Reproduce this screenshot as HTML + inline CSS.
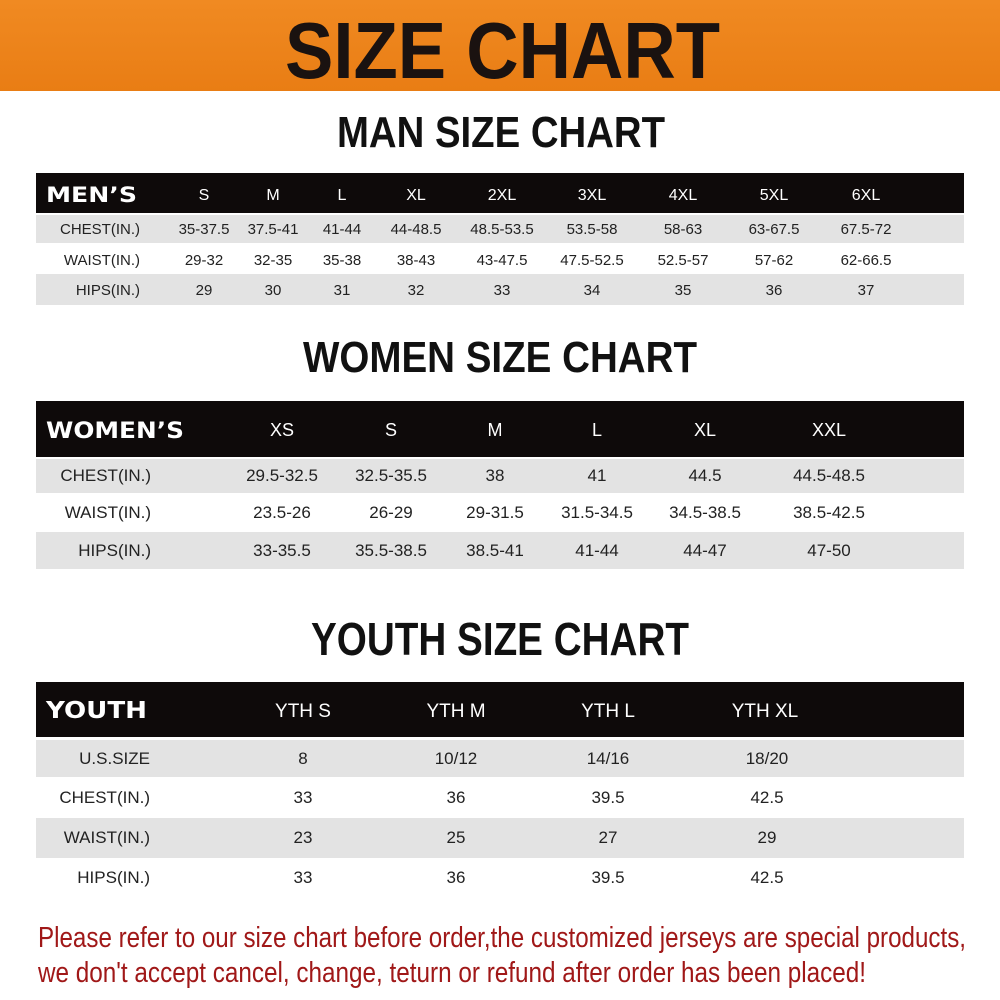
<!DOCTYPE html>
<html><head><meta charset="utf-8"><style>
html,body{margin:0;padding:0;background:#fff;width:1000px;height:1000px;overflow:hidden}
svg{display:block}
</style></head><body>
<svg width="1000" height="1000" viewBox="0 0 1000 1000" xmlns="http://www.w3.org/2000/svg">
<defs><linearGradient id="og" x1="0" y1="0" x2="0" y2="1"><stop offset="0" stop-color="#f08a22"/><stop offset="1" stop-color="#e97d14"/></linearGradient></defs>
<rect x="0" y="0" width="1000" height="91" fill="url(#og)"/>
<text x="285" y="78" font-family="Liberation Sans Narrow, Liberation Sans, sans-serif" font-weight="bold" font-size="80" fill="#1a1210" textLength="435" lengthAdjust="spacingAndGlyphs">SIZE CHART</text>
<g font-family="Liberation Sans Narrow, Liberation Sans, sans-serif" font-weight="bold" fill="#111">
<text x="337" y="147" font-size="44" textLength="328" lengthAdjust="spacingAndGlyphs">MAN SIZE CHART</text>
<text x="303" y="372" font-size="44" textLength="394" lengthAdjust="spacingAndGlyphs">WOMEN SIZE CHART</text>
<text x="311" y="655" font-size="46" textLength="378" lengthAdjust="spacingAndGlyphs">YOUTH SIZE CHART</text>
</g>
<!-- MEN -->
<rect x="36" y="173" width="928" height="40" fill="#0e0a0a"/>
<rect x="36" y="215" width="928" height="28" fill="#e3e3e3"/>
<rect x="36" y="274" width="928" height="31" fill="#e3e3e3"/>
<text x="46" y="202" font-family="DejaVu Sans, sans-serif" font-weight="bold" font-size="21" fill="#fff" textLength="91" lengthAdjust="spacingAndGlyphs">MEN’S</text>
<g font-family="Liberation Sans, sans-serif" font-size="16" fill="#fff" text-anchor="middle">
<text x="204" y="200">S</text><text x="273" y="200">M</text><text x="342" y="200">L</text><text x="416" y="200">XL</text><text x="502" y="200">2XL</text><text x="592" y="200">3XL</text><text x="683" y="200">4XL</text><text x="774" y="200">5XL</text><text x="866" y="200">6XL</text>
</g>
<g font-family="Liberation Sans, sans-serif" font-size="15" fill="#222" text-anchor="middle">
<text x="140" y="234" text-anchor="end">CHEST(IN.)</text>
<text x="204" y="234">35-37.5</text><text x="273" y="234">37.5-41</text><text x="342" y="234">41-44</text><text x="416" y="234">44-48.5</text><text x="502" y="234">48.5-53.5</text><text x="592" y="234">53.5-58</text><text x="683" y="234">58-63</text><text x="774" y="234">63-67.5</text><text x="866" y="234">67.5-72</text>
<text x="140" y="265" text-anchor="end">WAIST(IN.)</text>
<text x="204" y="265">29-32</text><text x="273" y="265">32-35</text><text x="342" y="265">35-38</text><text x="416" y="265">38-43</text><text x="502" y="265">43-47.5</text><text x="592" y="265">47.5-52.5</text><text x="683" y="265">52.5-57</text><text x="774" y="265">57-62</text><text x="866" y="265">62-66.5</text>
<text x="140" y="295" text-anchor="end">HIPS(IN.)</text>
<text x="204" y="295">29</text><text x="273" y="295">30</text><text x="342" y="295">31</text><text x="416" y="295">32</text><text x="502" y="295">33</text><text x="592" y="295">34</text><text x="683" y="295">35</text><text x="774" y="295">36</text><text x="866" y="295">37</text>
</g>
<!-- WOMEN -->
<rect x="36" y="401" width="928" height="56" fill="#0e0a0a"/>
<rect x="36" y="459" width="928" height="34" fill="#e3e3e3"/>
<rect x="36" y="532" width="928" height="37" fill="#e3e3e3"/>
<text x="46" y="438" font-family="DejaVu Sans, sans-serif" font-weight="bold" font-size="22" fill="#fff" textLength="138" lengthAdjust="spacingAndGlyphs">WOMEN’S</text>
<g font-family="Liberation Sans, sans-serif" font-size="18" fill="#fff" text-anchor="middle">
<text x="282" y="436">XS</text><text x="391" y="436">S</text><text x="495" y="436">M</text><text x="597" y="436">L</text><text x="705" y="436">XL</text><text x="829" y="436">XXL</text>
</g>
<g font-family="Liberation Sans, sans-serif" font-size="17" fill="#222" text-anchor="middle">
<text x="151" y="481" text-anchor="end">CHEST(IN.)</text>
<text x="282" y="481">29.5-32.5</text><text x="391" y="481">32.5-35.5</text><text x="495" y="481">38</text><text x="597" y="481">41</text><text x="705" y="481">44.5</text><text x="829" y="481">44.5-48.5</text>
<text x="151" y="518" text-anchor="end">WAIST(IN.)</text>
<text x="282" y="518">23.5-26</text><text x="391" y="518">26-29</text><text x="495" y="518">29-31.5</text><text x="597" y="518">31.5-34.5</text><text x="705" y="518">34.5-38.5</text><text x="829" y="518">38.5-42.5</text>
<text x="151" y="556" text-anchor="end">HIPS(IN.)</text>
<text x="282" y="556">33-35.5</text><text x="391" y="556">35.5-38.5</text><text x="495" y="556">38.5-41</text><text x="597" y="556">41-44</text><text x="705" y="556">44-47</text><text x="829" y="556">47-50</text>
</g>
<!-- YOUTH -->
<rect x="36" y="682" width="928" height="55" fill="#0e0a0a"/>
<rect x="36" y="740" width="928" height="37" fill="#e3e3e3"/>
<rect x="36" y="818" width="928" height="40" fill="#e3e3e3"/>
<text x="46" y="718" font-family="DejaVu Sans, sans-serif" font-weight="bold" font-size="23" fill="#fff" textLength="101" lengthAdjust="spacingAndGlyphs">YOUTH</text>
<g font-family="Liberation Sans, sans-serif" font-size="19" fill="#fff" text-anchor="middle">
<text x="303" y="717">YTH S</text><text x="456" y="717">YTH M</text><text x="608" y="717">YTH L</text><text x="765" y="717">YTH XL</text>
</g>
<g font-family="Liberation Sans, sans-serif" font-size="17" fill="#222" text-anchor="middle">
<text x="150" y="764" text-anchor="end">U.S.SIZE</text>
<text x="303" y="764">8</text><text x="456" y="764">10/12</text><text x="608" y="764">14/16</text><text x="767" y="764">18/20</text>
<text x="150" y="803" text-anchor="end">CHEST(IN.)</text>
<text x="303" y="803">33</text><text x="456" y="803">36</text><text x="608" y="803">39.5</text><text x="767" y="803">42.5</text>
<text x="150" y="843" text-anchor="end">WAIST(IN.)</text>
<text x="303" y="843">23</text><text x="456" y="843">25</text><text x="608" y="843">27</text><text x="767" y="843">29</text>
<text x="150" y="883" text-anchor="end">HIPS(IN.)</text>
<text x="303" y="883">33</text><text x="456" y="883">36</text><text x="608" y="883">39.5</text><text x="767" y="883">42.5</text>
</g>
<g font-family="Liberation Sans Narrow, Liberation Sans, sans-serif" font-size="29" fill="#a01818">
<text x="38" y="947" textLength="928" lengthAdjust="spacingAndGlyphs">Please refer to our size chart before order,the customized jerseys are special products,</text>
<text x="38" y="982" textLength="828" lengthAdjust="spacingAndGlyphs">we don't accept cancel, change, teturn or refund after order has been placed!</text>
</g>
</svg>
</body></html>
